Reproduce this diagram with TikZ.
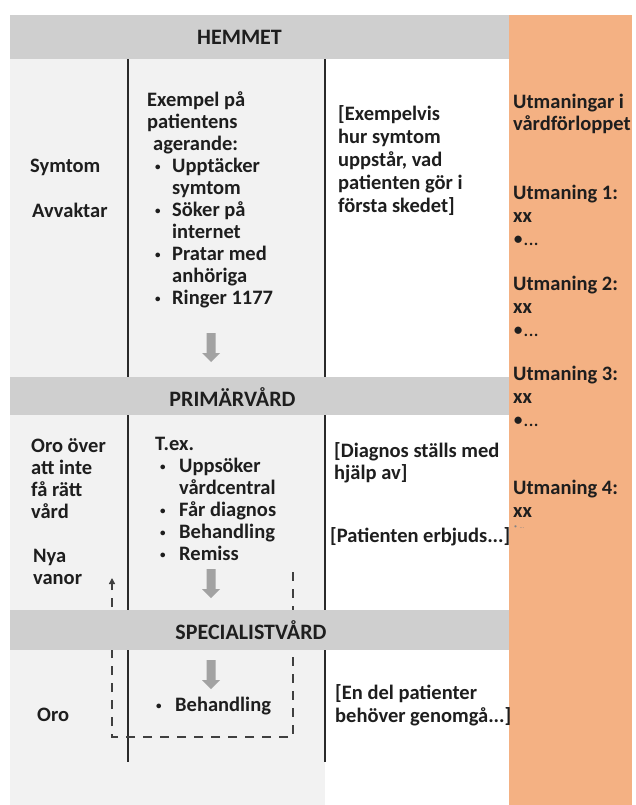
\documentclass[tikz,border=0pt]{standalone}
\usepackage{fontspec}
\setmainfont{Carlito}
\usetikzlibrary{arrows.meta}

\definecolor{band}{HTML}{CFCFCF}
\definecolor{pale}{HTML}{F2F2F2}
\definecolor{peach}{HTML}{F4B183}
\definecolor{ink}{HTML}{1E1E1E}
\definecolor{rulecol}{HTML}{2A2A2A}
\definecolor{flowgrey}{HTML}{A2A2A2}
\definecolor{dashcol}{HTML}{404040}

% small list bullet with a fixed hanging indent
\newcommand{\dotmark}{\raisebox{2pt}{\fontsize{11}{11}\selectfont\textbullet}}
\newcommand{\bl}[1][19pt]{\makebox[#1][l]{\hspace*{2pt}\dotmark}}

\begin{document}
\begin{tikzpicture}[x=1pt,y=-1pt,
  txt/.style={font=\bfseries\fontsize{20.5}{22}\selectfont, text=ink,
    inner sep=0pt, align=left, anchor=west},
  wide/.style={txt, font=\bfseries\fontsize{20.5}{23}\selectfont},
  headtxt/.style={font=\bfseries\fontsize{22}{24}\selectfont, text=ink, inner sep=0pt},
  divider/.style={draw=rulecol, line width=2.7pt},
  loopline/.style={draw=dashcol, line width=2pt, dash pattern=on 9pt off 8pt},
  flowarrow/.pic={\fill[flowgrey] (-4.5,0) -- (4.5,0) -- (4.5,20) -- (9,20)
      -- (0,29) -- (-9,20) -- (-4.5,20) -- cycle;}
]
\useasboundingbox (0,0) rectangle (635,805);
\fill[white] (0,0) rectangle (635,805);

% column backgrounds
\fill[pale] (10,15) rectangle (325,805);
\fill[peach] (509,15) rectangle (632,805);

% column dividers
\coordinate (l1) at (128,59);  \coordinate (l2) at (128,762);
\coordinate (r1) at (325,59);  \coordinate (r2) at (325,762);
\draw[divider] (l1) -- (l2);
\draw[divider] (r1) -- (r2);

% dashed return loop from specialist care back to primary care
\coordinate (dtop) at (293,572);
\coordinate (dbr) at (293,737);
\coordinate (dbl) at (112,737);
\coordinate (dend) at (112,578);
\draw[loopline, -{Triangle[length=6pt,width=6pt]}] (dtop) -- (dbr) -- (dbl) -- (dend);

% stage bands
\fill[band] (10,15) rectangle (509,59);
\fill[band] (10,377) rectangle (509,415);
\fill[band] (10,610) rectangle (509,650);
\node[headtxt] (hemmet) at (239.5,37) {HEMMET};
\node[headtxt] (primhead) at (232.5,397) {PRIMÄRVÅRD};
\node[headtxt] (spechead) at (251,630) {SPECIALISTVÅRD};

% HEMMET
\node[txt] (symtom) at (30,167) {Symtom};
\node[txt] (avvaktar) at (32,210) {Avvaktar};
\node[txt] (homeacts) at (147,199.5) {Exempel på\\patientens\\\hspace*{6pt}agerande:\\
  \hspace*{6pt}\bl Upptäcker\\\hspace*{25pt}symtom\\
  \hspace*{6pt}\bl Söker på\\\hspace*{25pt}internet\\
  \hspace*{6pt}\bl Pratar med\\\hspace*{25pt}anhöriga\\
  \hspace*{6pt}\bl Ringer 1177};
\node[wide] (homenote) at (338,161) {[Exempelvis\\hur symtom\\uppstår, vad\\patienten gör i\\första skedet]};
\pic at (211,333) {flowarrow};

% PRIMÄRVÅRD
\node[txt] (worry) at (31,478.5) {Oro över\\att inte\\få rätt\\vård};
\node[txt] (habits) at (33,567) {Nya\\vanor};
\node[txt] (primacts) at (155,499) {T.ex.\\
  \hspace*{3pt}\bl[21pt]Uppsöker\\\hspace*{24pt}vårdcentral\\
  \hspace*{3pt}\bl[21pt]Får diagnos\\
  \hspace*{3pt}\bl[21pt]Behandling\\
  \hspace*{3pt}\bl[21pt]Remiss};
\node[txt] (diagnote) at (334,462.5) {[Diagnos ställs med\\hjälp av]};
\node[txt] (offernote) at (330,537) {[Patienten erbjuds...]};
\pic at (211,569) {flowarrow};

% SPECIALISTVÅRD
\node[txt] (oro) at (37,715) {Oro};
\node[txt] (treat) at (154,706) {\bl[21pt]Behandling};
\node[wide] (specnote) at (335,705) {[En del patienter\\behöver genomgå...]};
\pic at (211,660) {flowarrow};

% challenges column
\node[txt, font=\bfseries\fontsize{20.5}{22.5}\selectfont] (challenges) at (513,114) {Utmaningar i\\vårdförloppet};
\node[txt, font=\bfseries\fontsize{20.5}{23}\selectfont] (ch1) at (513,215) {Utmaning 1:\\xx\\{\mdseries •...}};
\node[txt, font=\bfseries\fontsize{20.5}{23}\selectfont] (ch2) at (513,306) {Utmaning 2:\\xx\\{\mdseries •...}};
\node[txt, font=\bfseries\fontsize{20.5}{23}\selectfont] (ch3) at (513,396) {Utmaning 3:\\xx\\{\mdseries •...}};
\node[txt, font=\bfseries\fontsize{20.5}{23}\selectfont] (ch4) at (513,498.5) {Utmaning 4:\\xx};
\node[txt, font=\fontsize{6}{7}\selectfont, text=ink!55] (ch4more) at (514,527) {•\ \ …};
\end{tikzpicture}
\end{document}
